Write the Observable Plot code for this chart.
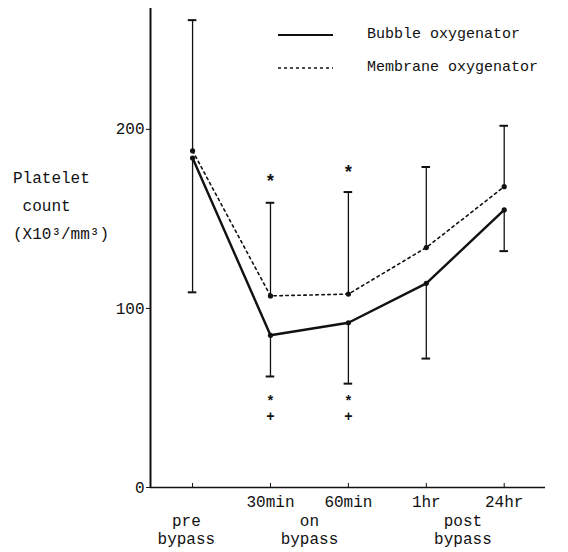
<!DOCTYPE html>
<html>
<head>
<meta charset="utf-8">
<script src="https://cdn.jsdelivr.net/npm/d3@7"></script>
<script src="https://cdn.jsdelivr.net/npm/@observablehq/plot@0.6"></script>
<style>
  html, body { margin: 0; padding: 0; background: #fff; }
  #wrap { position: relative; width: 568px; height: 552px; font-family: "Liberation Mono", "DejaVu Sans Mono", monospace; color: #111; }
  #ylabel { position: absolute; left: 13px; top: 165px; font-size: 16px; line-height: 28px; white-space: pre; }
  #legend { position: absolute; left: 278px; top: 18px; font-size: 15px; }
  #legend div { display: flex; align-items: center; height: 33px; }
  #legend svg { margin-right: 34px; }
</style>
</head>
<body>
<div id="wrap">
  <div id="ylabel">Platelet<br>&nbsp;count<br>(X10³/mm³)</div>
  <div id="legend">
    <div><svg width="55" height="6"><line x1="0" y1="3" x2="55" y2="3" stroke="#111" stroke-width="2"/></svg>Bubble oxygenator</div>
    <div><svg width="55" height="6"><line x1="0" y1="3" x2="55" y2="3" stroke="#111" stroke-width="1.3" stroke-dasharray="3,3"/></svg>Membrane oxygenator</div>
  </div>
</div>
<script>
// Time points (index on x axis)
const timeIndex = [0, 1, 2, 3, 4];
const tickLabels = ["", "30min", "60min", "1hr", "24hr"];
const groupLabels = ["pre\nbypass", "on\nbypass", "post\nbypass"];
const groupPositions = [-0.08, 1.5, 3.47];

// Means (x10^3/mm^3)
const bubbleMean = [184, 85, 92, 114, 155];
const membraneMean = [188, 107, 108, 134, 168];
// Error bar ends: bubble downward, membrane upward
const bubbleLow = [109, 62, 58, 72, 132];
const membraneHigh = [261, 159, 165, 179, 202];
// Significance marks at 30min & 60min
const sigIndex = [1, 2];
const sigUpY = [171, 176];
const sigDownY = [44, 44];

const xDomain = [-0.54, 4.53];
const yDomain = [0, 267.5];
const capHalf = 0.055;

const bubble = timeIndex.map((t, i) => ({t, v: bubbleMean[i], lo: bubbleLow[i]}));
const membrane = timeIndex.map((t, i) => ({t, v: membraneMean[i], hi: membraneHigh[i]}));
const sigUp = sigIndex.map((t, i) => ({t, y: sigUpY[i]}));
const sigDown = sigIndex.map((t, i) => ({t, y: sigDownY[i]}));
const groups = groupLabels.map((g, i) => ({x: groupPositions[i], label: g}));

const ink = "#111";
const chart = Plot.plot({
  width: 568,
  height: 552,
  marginLeft: 150,
  marginRight: 23,
  marginTop: 8,
  marginBottom: 65,
  style: {fontFamily: "'Liberation Mono', 'DejaVu Sans Mono', monospace", fontSize: "16px", color: ink, background: "transparent"},
  x: {domain: xDomain},
  y: {domain: yDomain},
  marks: [
    Plot.ruleX([xDomain[0]], {stroke: ink, strokeWidth: 2}),
    Plot.ruleY([0], {stroke: ink, strokeWidth: 1.5}),
    Plot.axisY({ticks: [0, 100, 200], tickSize: 4, tickPadding: 2, tickFormat: d => d, fontSize: 16, label: null}),
    Plot.axisX({ticks: timeIndex, tickSize: -4, tickPadding: 12, tickFormat: (d, i) => tickLabels[i], fontSize: 16, label: null}),
    Plot.text(groups, {x: "x", y: 0, text: "label", dy: 42, fontSize: 16, lineHeight: 1.1, fill: ink}),
    // error bars
    Plot.ruleX(membrane, {x: "t", y1: "v", y2: "hi", stroke: ink, strokeWidth: 1.3}),
    Plot.ruleX(bubble, {x: "t", y1: "v", y2: "lo", stroke: ink, strokeWidth: 1.3}),
    Plot.ruleY(membrane, {y: "hi", x1: d => d.t - capHalf, x2: d => d.t + capHalf, stroke: ink, strokeWidth: 2}),
    Plot.ruleY(bubble, {y: "lo", x1: d => d.t - capHalf, x2: d => d.t + capHalf, stroke: ink, strokeWidth: 2}),
    // lines
    Plot.line(membrane, {x: "t", y: "v", stroke: ink, strokeWidth: 1.6, strokeDasharray: "2.5,3.5"}),
    Plot.line(bubble, {x: "t", y: "v", stroke: ink, strokeWidth: 2.4}),
    Plot.dot(membrane, {x: "t", y: "v", r: 2.6, fill: ink}),
    Plot.dot(bubble, {x: "t", y: "v", r: 2.6, fill: ink}),
    // significance marks
    Plot.text(sigUp, {x: "t", y: "y", text: () => "*", fontSize: 18, fontWeight: "bold", fill: ink}),
    Plot.text(sigDown, {x: "t", y: "y", text: () => "*\n+", fontSize: 14, lineHeight: 1.05, fontWeight: "bold", fill: ink})
  ]
});
document.getElementById("wrap").prepend(chart);
chart.style.position = "absolute";
chart.style.left = "0";
chart.style.top = "0";
</script>
</body>
</html>
